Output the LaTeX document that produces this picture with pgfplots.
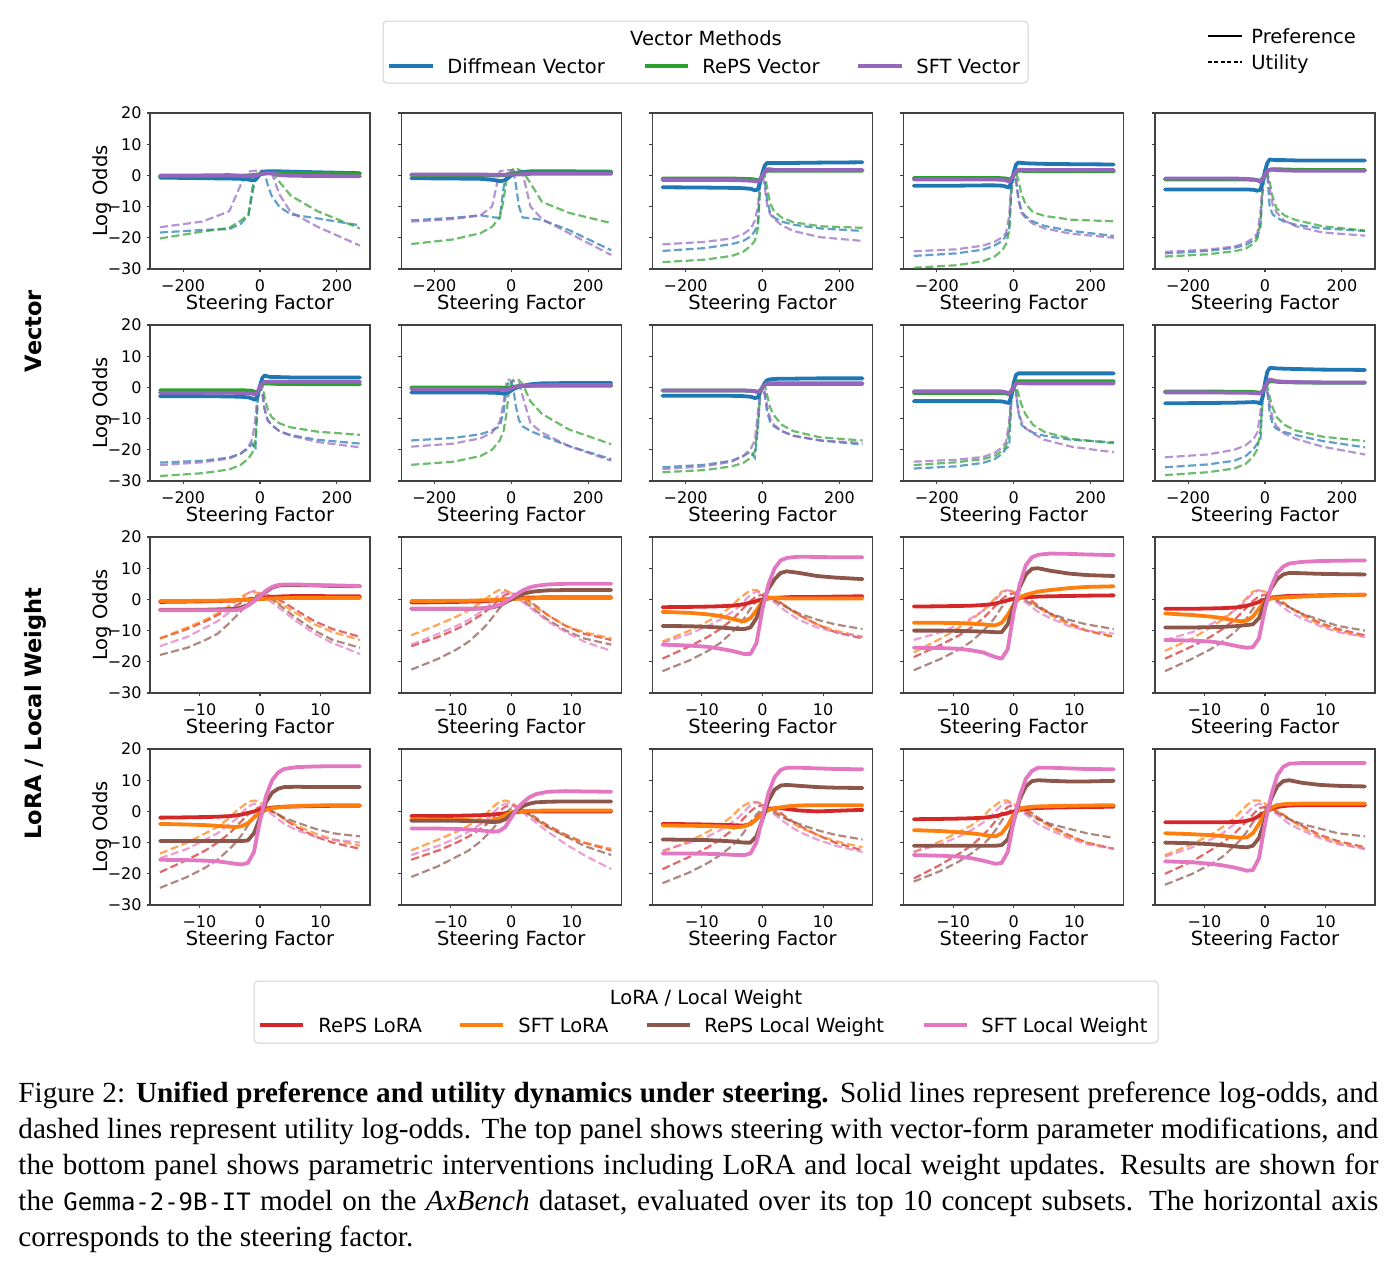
\documentclass[border=0pt]{standalone}
\usepackage{fontspec}
\setmainfont{DejaVu Sans}
\newfontfamily\capfont{Liberation Serif}
\newfontfamily\capmono{DejaVu Sans Mono}[Scale=0.82]
\usepackage{pgfplots}
\usepackage{pgfplotstable}
\pgfplotsset{compat=1.18}
\definecolor{tblue}{HTML}{1F77B4}
\definecolor{tgreen}{HTML}{2CA02C}
\definecolor{tpurple}{HTML}{9467BD}
\definecolor{tred}{HTML}{D62728}
\definecolor{torange}{HTML}{FF7F0E}
\definecolor{tbrown}{HTML}{8C564B}
\definecolor{tpink}{HTML}{E377C2}
\newcommand\lf{\fontsize{9.75}{11.5}\selectfont}
\pgfplotsset{
 panel/.style={scale only axis, width=110pt, height=78pt, anchor=south west,
  ymin=-30, ymax=20, ytick={-30,-20,-10,0,10,20},
  tick align=outside, xtick pos=bottom, ytick pos=left, major tick length=1.7pt,
  axis line style={line width=0.55pt, black!75},
  every tick/.style={line width=0.55pt, black!75},
  ticklabel style={font=\fontsize{8}{9.6}\selectfont, inner sep=0pt},
  xticklabel style={anchor=base, yshift=-9.75pt},
  yticklabel style={anchor=east, xshift=-2.3pt},
  yticklabels={,,,,,},
  xlabel={Steering Factor},
  xlabel style={at={(axis description cs:0.5,-0.2564)}, anchor=base, font=\lf, inner sep=0pt},
  ylabel style={at={(axis description cs:-0.1932,0.5)}, anchor=base, font=\lf, inner sep=0pt},
 },
 vec/.style={xmin=-286, xmax=286, xtick={-200,0,200}, xticklabels={−200,0,200}},
 lora/.style={xmin=-18.15, xmax=18.15, xtick={-10,0,10}, xticklabels={−10,0,10}},
 first/.style={ylabel={Log Odds}, yticklabels={−30,−20,−10,0,10,20}},
 pl/.style={no marks, line width=1.9pt, line join=round, line cap=round},
 ut/.style={no marks, line width=1.1pt, opacity=0.7, dash pattern=on 4pt off 1.8pt},
}
\newcommand\vpanel[4]{%
\begin{axis}[panel, vec, at={(#1*0.5pt,-#2*0.5pt)}, #4]
\addplot[ut, tblue] table[x=x,y=a]{#3};
\addplot[ut, tgreen] table[x=x,y=b]{#3};
\addplot[ut, tpurple] table[x=x,y=c]{#3};
\addplot[pl, tblue] table[x=x,y=A]{#3};
\addplot[pl, tgreen] table[x=x,y=B]{#3};
\addplot[pl, tpurple] table[x=x,y=C]{#3};
\end{axis}}
\newcommand\lpanel[4]{%
\begin{axis}[panel, lora, at={(#1*0.5pt,-#2*0.5pt)}, #4]
\addplot[ut, tred] table[x=x,y=r]{#3};
\addplot[ut, torange] table[x=x,y=o]{#3};
\addplot[ut, tbrown] table[x=x,y=w]{#3};
\addplot[ut, tpink] table[x=x,y=p]{#3};
\addplot[pl, tred] table[x=x,y=R]{#3};
\addplot[pl, torange] table[x=x,y=O]{#3};
\addplot[pl, tbrown] table[x=x,y=W]{#3};
\addplot[pl, tpink] table[x=x,y=P]{#3};
\end{axis}}

% ---------- vector panels: x, diffmean pref/util, reps pref/util, sft pref/util
\pgfplotstableread{
x A a B b C c
-260 -0.7 -18.3 -0.3 -20.2 0.0 -16.6
-150 -0.9 -17.5 -0.3 -18.0 0.0 -14.8
-80 -1.0 -17.2 -0.2 -16.8 0.1 -11.5
-50 -1.1 -15.5 -0.1 -14.5 -0.1 -3.0
-30 -1.3 -12.8 0.0 -12.5 -0.3 1.2
-20 -1.6 -6.0 0.1 -4.0 -0.2 1.4
-12 -1.4 -1.0 0.2 0.0 0.0 1.5
-6 -0.6 0.5 0.3 0.8 0.1 1.5
0 0.3 1.2 0.4 1.0 0.3 1.5
6 0.9 1.5 0.5 1.2 0.5 1.5
12 1.2 0.8 0.6 1.3 0.6 1.5
20 1.3 -3.0 0.7 1.3 0.7 1.4
30 1.3 -6.5 0.8 1.2 0.6 1.0
50 1.3 -10.0 0.8 -2.0 0.1 -6.0
80 1.2 -12.5 0.8 -6.5 -0.1 -11.8
150 1.0 -13.8 0.7 -11.5 -0.2 -16.5
260 0.7 -16.0 0.6 -17.0 -0.3 -22.5
}\tAA
\pgfplotstableread{
x A a B b C c
-260 -0.9 -14.4 0.1 -22.0 0.3 -14.8
-150 -1.0 -13.6 0.1 -20.5 0.3 -14.0
-80 -1.1 -12.8 0.0 -18.5 0.3 -12.8
-50 -1.4 -13.4 0.0 -16.5 0.2 -10.0
-30 -1.8 -13.6 0.0 -13.5 0.2 1.3
-20 -1.7 -4.0 0.1 -8.0 0.2 1.6
-12 -1.2 0.5 0.2 -1.0 0.2 1.7
-6 -0.6 1.0 0.3 0.5 0.3 1.7
0 0.0 1.2 0.5 1.5 0.3 1.6
6 0.4 1.0 0.6 2.2 0.3 1.6
12 0.7 -3.0 0.7 2.3 0.3 1.5
20 0.9 -10.0 0.8 1.8 0.3 1.4
30 1.1 -13.5 0.9 1.2 0.4 0.5
50 1.3 -13.7 1.0 -2.5 0.5 -10.0
80 1.3 -14.3 1.0 -8.5 0.5 -14.0
150 1.3 -17.5 1.0 -12.0 0.5 -18.5
260 1.2 -24.0 1.0 -15.3 0.5 -25.5
}\tAB
\pgfplotstableread{
x A a B b C c
-260 -3.8 -24.2 -1.0 -27.8 -1.5 -22.1
-150 -3.9 -23.3 -1.0 -27.0 -1.5 -21.3
-80 -4.0 -22.0 -1.0 -25.8 -1.5 -20.2
-50 -4.1 -21.0 -1.1 -24.5 -1.6 -18.8
-30 -4.3 -19.5 -1.2 -22.5 -1.7 -17.0
-20 -4.8 -17.8 -1.3 -21.0 -1.8 -14.5
-12 -4.5 -15.5 -1.6 -17.0 -2.0 -10.0
-6 -2.0 -2.0 -1.5 -3.0 -1.2 -2.0
0 1.0 0.3 0.0 0.3 0.0 0.6
6 3.2 -2.0 1.0 0.3 1.2 -4.0
12 4.0 -8.0 1.5 -4.0 2.0 -9.5
20 4.0 -12.0 1.5 -9.0 2.0 -12.5
30 4.0 -13.5 1.5 -11.5 1.7 -14.0
50 4.0 -14.8 1.5 -13.5 1.7 -16.0
80 4.0 -15.8 1.5 -15.0 1.7 -17.8
150 4.1 -17.0 1.5 -16.3 1.7 -19.8
260 4.2 -17.8 1.5 -16.8 1.7 -21.0
}\tAC
\pgfplotstableread{
x A a B b C c
-260 -3.3 -25.8 -0.8 -29.6 -1.3 -24.3
-150 -3.3 -25.0 -0.8 -28.8 -1.3 -23.7
-80 -3.2 -23.8 -0.8 -27.5 -1.3 -22.5
-50 -3.2 -22.5 -0.8 -26.0 -1.3 -21.3
-30 -3.3 -21.0 -0.9 -24.0 -1.4 -19.8
-20 -3.6 -19.3 -1.0 -22.0 -1.6 -18.5
-12 -3.9 -17.5 -1.3 -18.0 -2.0 -13.0
-6 -2.0 -4.0 -1.0 -5.0 -1.0 -2.0
0 1.0 0.0 0.0 0.3 0.3 0.8
6 3.5 -2.0 1.0 1.0 1.3 -1.0
12 4.1 -7.0 1.5 -1.5 1.8 -8.0
20 4.0 -11.5 1.5 -6.0 1.8 -12.0
30 3.9 -13.0 1.4 -9.0 1.7 -13.5
50 3.8 -14.8 1.4 -11.8 1.7 -15.5
80 3.7 -16.2 1.3 -13.0 1.7 -17.0
150 3.6 -17.8 1.3 -14.2 1.7 -18.7
260 3.5 -19.4 1.3 -14.7 1.7 -20.0
}\tAD
\pgfplotstableread{
x A a B b C c
-260 -4.5 -25.0 -1.3 -26.0 -1.0 -24.5
-150 -4.5 -24.2 -1.3 -25.3 -1.0 -23.8
-80 -4.5 -23.2 -1.3 -24.3 -1.0 -22.8
-50 -4.5 -22.3 -1.3 -23.5 -1.1 -21.6
-30 -4.6 -20.8 -1.4 -21.8 -1.3 -20.0
-20 -4.9 -19.5 -1.5 -20.3 -1.6 -18.5
-12 -4.6 -17.0 -1.8 -15.0 -2.1 -12.0
-6 -2.0 -3.0 -1.0 -5.0 -1.0 -2.0
0 1.5 0.2 0.0 0.3 0.3 1.0
6 4.0 0.5 1.2 1.0 1.3 0.0
12 5.1 -10.0 1.8 -2.0 1.8 -4.0
20 5.0 -12.5 2.0 -7.0 1.8 -9.5
30 4.9 -13.5 2.0 -10.5 1.7 -11.8
50 4.9 -14.8 1.9 -12.8 1.6 -14.5
80 4.8 -15.8 1.8 -14.3 1.5 -16.3
150 4.8 -17.0 1.7 -16.3 1.5 -18.3
260 4.8 -17.8 1.7 -17.7 1.5 -19.3
}\tAE
\pgfplotstableread{
x A a B b C c
-260 -2.8 -24.1 -0.9 -28.4 -1.7 -24.9
-150 -2.8 -23.5 -0.9 -27.5 -1.7 -24.0
-80 -2.9 -22.5 -0.9 -26.3 -1.7 -22.8
-50 -3.0 -21.2 -0.9 -24.8 -1.8 -21.2
-30 -3.2 -19.5 -1.0 -22.8 -1.9 -19.0
-20 -3.6 -18.0 -1.1 -21.0 -2.0 -16.5
-12 -4.0 -20.0 -1.5 -17.0 -2.3 -10.0
-6 -2.5 -4.0 -1.5 -4.0 -1.5 -1.5
0 0.5 0.0 0.0 0.3 0.3 0.3
6 3.0 -2.0 1.0 0.5 1.3 -1.0
12 3.8 -7.0 1.3 -3.0 1.8 -7.0
20 3.5 -10.5 1.3 -7.0 1.8 -10.5
30 3.3 -12.0 1.2 -9.5 1.8 -12.0
50 3.3 -14.0 1.1 -11.5 1.8 -14.0
80 3.2 -15.3 1.1 -12.8 1.8 -15.5
150 3.2 -16.8 1.0 -14.2 1.8 -17.5
260 3.2 -18.0 1.0 -15.2 1.8 -19.2
}\tBA
\pgfplotstableread{
x A a B b C c
-260 -1.6 -17.0 0.0 -24.8 -0.5 -19.0
-150 -1.6 -16.2 0.0 -23.8 -0.5 -18.0
-80 -1.6 -15.0 0.0 -22.0 -0.5 -16.3
-50 -1.7 -13.8 0.0 -20.0 -0.5 -14.5
-30 -1.8 -12.5 0.0 -17.0 -0.6 -11.0
-20 -2.0 -8.0 -0.1 -14.0 -0.8 -5.0
-12 -1.9 0.0 -0.2 -8.0 -0.8 2.3
-6 -1.5 2.0 -0.2 -1.0 -0.6 2.5
0 -1.0 2.0 0.0 1.5 -0.3 2.0
6 -0.5 -1.0 0.2 2.5 0.0 2.0
12 -0.2 -6.0 0.3 2.5 0.2 2.0
20 0.2 -10.5 0.4 2.3 0.4 1.5
30 0.5 -12.5 0.4 1.0 0.5 -3.0
50 1.0 -14.0 0.5 -4.5 0.6 -11.5
80 1.3 -15.5 0.5 -8.5 0.7 -14.5
150 1.4 -18.8 0.5 -13.5 0.8 -18.8
260 1.4 -23.0 0.5 -18.2 0.8 -23.5
}\tBB
\pgfplotstableread{
x A a B b C c
-260 -2.7 -25.6 -1.0 -27.2 -1.0 -26.2
-150 -2.7 -24.8 -1.0 -26.5 -1.0 -25.3
-80 -2.7 -23.5 -1.0 -25.3 -1.0 -23.8
-50 -2.8 -22.0 -1.0 -24.2 -1.0 -22.0
-30 -3.0 -20.5 -1.1 -22.5 -1.1 -19.5
-20 -3.4 -22.5 -1.2 -20.5 -1.2 -17.0
-12 -3.2 -13.0 -1.5 -12.0 -1.5 -8.0
-6 -1.5 -2.0 -1.0 -2.0 -1.0 -1.0
0 0.0 0.0 0.0 0.3 0.0 0.5
6 1.5 -2.5 0.8 0.5 0.8 -1.5
12 2.3 -8.0 1.2 -2.5 1.1 -6.0
20 2.6 -11.0 1.3 -6.5 1.1 -10.0
30 2.7 -12.5 1.3 -9.0 1.1 -12.0
50 2.8 -14.0 1.3 -12.0 1.1 -14.0
80 2.8 -15.5 1.3 -14.0 1.1 -15.5
150 2.9 -17.0 1.3 -16.0 1.1 -17.0
260 2.9 -18.3 1.3 -17.0 1.1 -17.8
}\tBC
\pgfplotstableread{
x A a B b C c
-260 -4.4 -26.0 -1.8 -24.9 -1.2 -23.8
-150 -4.4 -25.3 -1.8 -24.0 -1.2 -23.2
-80 -4.4 -24.2 -1.8 -23.0 -1.2 -22.3
-50 -4.4 -23.0 -1.8 -22.0 -1.2 -21.0
-30 -4.5 -21.3 -1.8 -20.3 -1.3 -19.2
-20 -4.8 -19.5 -1.9 -18.8 -1.6 -17.5
-12 -5.0 -19.0 -2.2 -14.0 -2.0 -11.0
-6 -2.5 -4.0 -1.5 -3.0 -1.0 -1.5
0 1.5 0.0 0.0 0.0 0.3 0.5
6 4.0 -1.5 1.5 0.5 1.2 -2.0
12 4.5 -8.0 2.0 -2.0 1.4 -7.5
20 4.5 -12.0 2.0 -5.5 1.4 -11.0
30 4.5 -13.0 2.0 -8.5 1.3 -13.0
50 4.5 -14.5 2.0 -12.0 1.3 -14.8
80 4.5 -15.5 2.0 -14.3 1.3 -16.8
150 4.5 -16.8 2.0 -16.5 1.3 -19.0
260 4.5 -17.6 2.0 -17.9 1.3 -20.8
}\tBD
\pgfplotstableread{
x A a B b C c
-260 -5.1 -25.6 -1.3 -28.1 -1.6 -22.4
-150 -5.0 -24.7 -1.3 -27.2 -1.6 -21.5
-80 -4.9 -23.5 -1.4 -26.0 -1.7 -20.0
-50 -4.8 -22.0 -1.4 -24.5 -1.7 -18.5
-30 -4.7 -19.8 -1.5 -22.0 -1.8 -16.5
-20 -4.8 -18.0 -1.6 -19.8 -1.9 -14.5
-12 -5.2 -17.0 -1.8 -14.0 -2.0 -8.0
-6 -3.0 -3.0 -1.2 -4.0 -1.2 -1.0
0 1.5 0.0 0.0 0.2 0.2 0.5
6 5.0 -1.0 1.3 0.2 1.5 -1.5
12 6.2 -8.0 2.0 -3.0 2.5 -5.5
20 6.2 -12.0 2.0 -6.5 2.3 -10.0
30 6.1 -13.3 1.8 -9.5 2.0 -12.5
50 6.0 -14.3 1.7 -12.0 1.8 -14.8
80 5.9 -15.3 1.6 -13.8 1.7 -16.5
150 5.7 -17.2 1.5 -15.8 1.6 -19.0
260 5.6 -19.2 1.5 -17.2 1.6 -21.5
}\tBE

% ---------- LoRA / local weight panels (one row per series, transposed below)
\pgfplotstableread{
name c1 c2 c3 c4 c5 c6 c7 c8 c9 c10 c11 c12 c13 c14 c15 c16 c17 c18
x -16.5 -12 -9 -7 -5 -4 -3 -2 -1 0 1 2 3 4 6 9 12 16.5
R -0.8 -0.7 -0.6 -0.5 -0.4 -0.3 -0.2 0.0 0.2 0.4 0.6 0.8 0.9 1.0 1.1 1.1 1.0 1.0
r -12.5 -9.5 -7.0 -5.0 -3.0 -2.0 -1.0 0.0 1.0 1.5 1.5 1.0 0.0 -1.0 -3.5 -7.0 -9.5 -12.0
O -0.5 -0.5 -0.4 -0.4 -0.3 -0.3 -0.2 -0.1 0.0 0.1 0.2 0.3 0.4 0.4 0.5 0.5 0.5 0.5
o -12.5 -9.0 -6.5 -4.5 -2.0 -0.5 1.0 2.0 2.3 2.0 1.0 0.0 -1.0 -2.0 -4.5 -8.0 -10.5 -13.0
W -3.3 -3.3 -3.3 -3.2 -3.1 -3.0 -2.5 -1.8 -0.5 1.0 2.5 3.8 4.4 4.6 4.6 4.5 4.3 4.2
w -17.8 -15.5 -13.0 -11.0 -7.5 -5.5 -3.5 -1.5 0.0 1.0 1.0 0.0 -1.5 -3.0 -6.0 -10.0 -13.0 -15.5
P -3.5 -3.5 -3.5 -3.5 -3.5 -3.5 -3.0 -2.0 -0.5 1.0 2.8 4.0 4.6 4.8 4.8 4.6 4.5 4.3
p -15.0 -12.0 -9.0 -7.0 -4.0 -2.0 0.0 2.0 2.8 2.0 0.5 -1.0 -2.5 -4.0 -7.0 -11.0 -14.0 -17.5
}\rCA
\pgfplotstableread{
name c1 c2 c3 c4 c5 c6 c7 c8 c9 c10 c11 c12 c13 c14 c15 c16 c17 c18
x -16.5 -12 -9 -7 -5 -4 -3 -2 -1 0 1 2 3 4 6 9 12 16.5
R -1.0 -0.9 -0.8 -0.7 -0.6 -0.5 -0.4 -0.2 0.0 0.2 0.4 0.5 0.6 0.6 0.7 0.7 0.7 0.7
r -15.0 -12.0 -9.5 -7.5 -5.0 -3.5 -2.0 0.0 1.5 2.0 1.5 0.5 -0.5 -2.0 -5.0 -8.5 -11.0 -13.0
O -0.5 -0.5 -0.4 -0.4 -0.3 -0.3 -0.2 -0.1 0.0 0.1 0.2 0.3 0.4 0.4 0.5 0.5 0.5 0.5
o -11.5 -8.0 -5.5 -3.5 -1.0 0.5 2.0 3.0 3.0 2.0 1.0 0.0 -1.0 -2.5 -5.0 -8.5 -10.5 -12.5
W -3.0 -3.0 -3.0 -3.0 -2.9 -2.8 -2.5 -2.0 -1.0 0.0 1.0 1.8 2.3 2.6 2.9 3.0 3.0 3.0
w -22.5 -19.0 -16.0 -13.5 -10.0 -8.0 -5.5 -3.0 -1.0 0.5 0.5 -0.5 -2.0 -3.5 -6.5 -10.0 -12.5 -14.5
P -3.0 -3.0 -3.0 -3.0 -2.9 -2.8 -2.4 -1.8 -0.8 0.5 1.8 3.0 3.8 4.3 4.8 5.0 5.0 5.0
p -14.5 -11.0 -8.5 -6.5 -4.0 -2.5 -0.5 1.5 2.5 2.0 0.5 -1.0 -2.5 -4.0 -7.0 -10.5 -13.5 -16.5
}\rCB
\pgfplotstableread{
name c1 c2 c3 c4 c5 c6 c7 c8 c9 c10 c11 c12 c13 c14 c15 c16 c17 c18
x -16.5 -12 -9 -7 -5 -4 -3 -2 -1 0 1 2 3 4 6 9 12 16.5
R -2.5 -2.4 -2.3 -2.2 -2.0 -1.8 -1.5 -1.0 -0.5 0.0 0.3 0.5 0.6 0.7 0.8 0.8 0.9 1.0
r -19.0 -15.0 -12.0 -9.5 -6.5 -4.5 -2.5 -0.5 1.0 1.5 1.0 0.0 -1.0 -2.5 -5.0 -8.0 -10.5 -12.5
O -4.0 -4.3 -4.8 -5.3 -6.2 -6.7 -7.0 -6.0 -3.5 -0.5 0.5 0.5 0.4 0.3 0.3 0.3 0.3 0.3
o -13.5 -10.0 -7.0 -5.0 -2.0 0.0 1.5 3.0 3.0 2.0 1.0 0.0 -1.0 -2.5 -5.0 -8.0 -10.0 -12.0
W -8.5 -8.6 -8.8 -9.0 -9.3 -9.5 -9.5 -9.0 -6.0 -1.0 3.5 6.5 8.5 9.0 8.5 7.5 7.0 6.5
w -23.0 -19.5 -16.5 -14.0 -10.5 -8.5 -6.0 -3.0 -0.5 1.0 0.5 -0.5 -1.5 -2.5 -4.5 -6.5 -8.0 -9.5
P -14.5 -14.8 -15.2 -15.8 -16.5 -17.0 -17.5 -17.5 -14.0 -3.0 5.0 10.0 12.5 13.3 13.7 13.6 13.5 13.5
p -14.0 -11.0 -8.5 -6.5 -4.0 -2.5 -0.5 1.5 2.5 2.0 0.5 -1.0 -2.5 -4.0 -6.5 -9.0 -10.5 -12.0
}\rCC
\pgfplotstableread{
name c1 c2 c3 c4 c5 c6 c7 c8 c9 c10 c11 c12 c13 c14 c15 c16 c17 c18
x -16.5 -12 -9 -7 -5 -4 -3 -2 -1 0 1 2 3 4 6 9 12 16.5
R -2.3 -2.2 -2.1 -2.0 -1.8 -1.6 -1.3 -0.8 -0.3 0.2 0.5 0.7 0.8 0.9 1.0 1.1 1.2 1.3
r -18.5 -14.5 -11.5 -9.0 -6.0 -4.0 -2.0 0.0 1.5 2.0 1.5 0.5 -0.5 -2.0 -4.5 -7.5 -10.0 -12.0
O -7.5 -7.5 -7.6 -7.8 -8.0 -8.2 -8.3 -7.5 -5.0 -1.5 0.5 1.5 2.0 2.5 3.0 3.6 4.0 4.2
o -17.0 -12.5 -9.0 -6.5 -3.5 -1.5 0.5 2.5 3.0 2.5 1.5 0.0 -1.0 -2.5 -5.0 -8.0 -10.0 -12.0
W -10.0 -10.0 -10.1 -10.2 -10.3 -10.4 -10.5 -10.5 -8.0 -2.0 4.0 8.0 9.8 10.0 9.2 8.3 7.8 7.5
w -22.7 -19.0 -16.0 -13.5 -10.0 -8.0 -5.5 -2.5 0.0 1.0 0.5 -0.5 -1.5 -2.5 -4.5 -6.5 -8.0 -9.5
P -15.5 -15.6 -15.8 -16.3 -17.0 -17.8 -18.5 -19.0 -16.0 -4.0 5.0 11.0 13.5 14.3 14.7 14.6 14.4 14.2
p -13.0 -10.5 -8.0 -6.0 -3.5 -2.0 0.0 2.0 3.0 2.0 0.5 -1.0 -2.5 -4.0 -6.0 -8.5 -10.0 -11.0
}\rCD
\pgfplotstableread{
name c1 c2 c3 c4 c5 c6 c7 c8 c9 c10 c11 c12 c13 c14 c15 c16 c17 c18
x -16.5 -12 -9 -7 -5 -4 -3 -2 -1 0 1 2 3 4 6 9 12 16.5
R -3.0 -3.0 -2.9 -2.8 -2.6 -2.4 -2.0 -1.5 -0.8 0.0 0.5 0.8 1.0 1.1 1.2 1.3 1.4 1.5
r -19.0 -15.0 -12.0 -9.5 -6.5 -4.5 -2.5 -0.5 1.0 1.5 1.0 0.0 -1.0 -2.5 -4.5 -7.5 -9.5 -11.5
O -4.5 -5.0 -5.5 -6.0 -6.8 -7.0 -6.8 -5.5 -3.0 -0.5 0.3 0.5 0.6 0.7 0.9 1.1 1.3 1.5
o -16.5 -12.5 -9.0 -6.5 -3.5 -1.5 0.5 2.5 3.0 2.5 1.5 0.0 -1.0 -2.5 -5.0 -8.0 -10.0 -12.0
W -9.0 -9.0 -8.9 -8.8 -8.6 -8.4 -8.2 -8.0 -6.0 -1.0 3.5 6.5 8.0 8.5 8.4 8.2 8.1 8.0
w -23.0 -19.0 -16.0 -13.5 -10.5 -8.5 -6.0 -3.0 -0.5 1.0 0.5 -0.5 -1.5 -2.5 -4.5 -6.5 -8.5 -10.0
P -13.0 -13.2 -13.5 -14.0 -14.8 -15.2 -15.5 -15.3 -12.5 -3.0 4.0 8.5 10.5 11.5 12.0 12.3 12.4 12.5
p -13.0 -10.5 -8.0 -6.0 -3.5 -2.0 0.0 2.0 3.0 2.0 0.5 -1.0 -2.5 -4.0 -6.0 -8.5 -10.5 -12.0
}\rCE
\pgfplotstableread{
name c1 c2 c3 c4 c5 c6 c7 c8 c9 c10 c11 c12 c13 c14 c15 c16 c17 c18
x -16.5 -12 -9 -7 -5 -4 -3 -2 -1 0 1 2 3 4 6 9 12 16.5
R -2.0 -1.9 -1.8 -1.7 -1.5 -1.3 -1.0 -0.5 0.0 0.5 0.9 1.2 1.4 1.5 1.6 1.7 1.8 1.8
r -19.5 -15.5 -12.5 -10.0 -7.0 -5.0 -3.0 -1.0 0.5 1.5 1.0 0.0 -1.0 -2.5 -5.0 -8.0 -10.0 -12.0
O -4.0 -4.2 -4.4 -4.6 -4.9 -5.0 -4.7 -3.8 -2.0 -0.5 0.5 1.0 1.3 1.5 1.7 1.9 2.0 2.0
o -13.5 -10.0 -7.0 -5.0 -2.0 0.0 1.5 3.0 3.5 3.0 1.5 0.0 -1.0 -2.5 -4.5 -7.0 -9.0 -11.0
W -9.5 -9.5 -9.5 -9.5 -9.5 -9.5 -9.5 -9.3 -7.0 -2.0 3.0 6.0 7.3 7.8 7.9 7.8 7.8 7.8
w -24.5 -21.0 -18.0 -15.5 -12.0 -10.0 -7.5 -4.5 -1.5 1.0 1.0 0.0 -1.0 -2.0 -3.5 -5.5 -7.0 -8.0
P -15.5 -15.6 -15.8 -16.0 -16.5 -16.8 -17.0 -16.5 -13.0 -3.0 5.0 10.0 12.5 13.6 14.2 14.4 14.5 14.5
p -15.0 -12.0 -9.0 -7.0 -4.0 -2.5 -0.5 1.5 2.5 2.0 0.5 -1.0 -2.5 -4.0 -6.0 -8.0 -9.0 -10.0
}\rDA
\pgfplotstableread{
name c1 c2 c3 c4 c5 c6 c7 c8 c9 c10 c11 c12 c13 c14 c15 c16 c17 c18
x -16.5 -12 -9 -7 -5 -4 -3 -2 -1 0 1 2 3 4 6 9 12 16.5
R -1.5 -1.5 -1.4 -1.3 -1.2 -1.1 -1.0 -0.8 -0.6 -0.4 -0.2 0.0 0.0 0.0 0.0 0.0 0.0 0.0
r -15.5 -12.5 -10.0 -8.0 -5.5 -4.0 -2.0 0.0 1.5 2.0 1.5 0.5 -0.5 -2.0 -4.5 -7.5 -10.0 -12.5
O -2.5 -2.6 -2.7 -2.8 -3.0 -3.0 -2.8 -2.2 -1.2 -0.3 0.0 0.1 0.2 0.2 0.3 0.3 0.3 0.3
o -12.5 -9.0 -6.5 -4.5 -2.0 -0.5 1.5 3.0 3.5 3.0 1.5 0.0 -1.0 -2.5 -5.0 -8.0 -10.0 -12.0
W -3.0 -3.0 -3.0 -3.1 -3.2 -3.3 -3.4 -3.3 -2.5 -1.0 0.5 1.8 2.5 2.9 3.1 3.2 3.2 3.2
w -21.0 -17.5 -14.5 -12.5 -9.5 -7.5 -5.5 -3.0 -0.5 1.0 1.0 0.0 -1.0 -2.5 -5.0 -8.0 -11.0 -14.0
P -5.5 -5.5 -5.6 -5.8 -6.1 -6.3 -6.5 -6.3 -5.0 -2.0 1.0 3.0 4.5 5.5 6.3 6.5 6.4 6.3
p -14.0 -11.0 -8.5 -6.5 -4.0 -2.5 -0.5 1.5 2.5 2.5 1.0 -0.5 -2.0 -3.5 -6.5 -10.5 -14.0 -18.5
}\rDB
\pgfplotstableread{
name c1 c2 c3 c4 c5 c6 c7 c8 c9 c10 c11 c12 c13 c14 c15 c16 c17 c18
x -16.5 -12 -9 -7 -5 -4 -3 -2 -1 0 1 2 3 4 6 9 12 16.5
R -4.0 -4.1 -4.2 -4.3 -4.4 -4.5 -4.5 -4.0 -2.5 -0.5 0.8 1.0 1.0 0.8 0.3 0.0 0.2 0.5
r -18.5 -14.5 -11.5 -9.0 -6.0 -4.0 -2.0 0.0 1.5 2.0 1.5 0.5 -0.5 -2.0 -4.5 -7.5 -10.0 -12.5
O -4.5 -4.6 -4.7 -4.8 -5.0 -5.0 -4.8 -4.0 -2.5 -0.8 0.5 1.0 1.3 1.6 1.9 2.0 2.0 2.0
o -13.0 -9.5 -6.5 -4.5 -1.5 0.5 2.0 3.0 3.0 2.5 1.0 0.0 -1.0 -2.5 -5.0 -7.5 -9.5 -11.5
W -9.0 -9.1 -9.2 -9.4 -9.6 -9.8 -10.0 -10.0 -8.0 -2.5 3.5 7.0 8.3 8.5 8.2 7.8 7.6 7.5
w -23.0 -19.5 -16.5 -14.0 -11.0 -9.0 -6.5 -3.5 -1.0 1.0 0.5 -0.5 -1.5 -2.5 -4.0 -6.0 -7.5 -9.0
P -13.5 -13.5 -13.6 -13.7 -13.9 -14.0 -14.0 -13.5 -10.0 -2.0 6.0 11.0 13.3 14.0 14.0 13.8 13.6 13.5
p -12.5 -10.0 -8.0 -6.0 -3.5 -2.0 0.0 2.0 3.0 2.0 0.5 -1.0 -2.5 -4.0 -6.5 -9.0 -11.0 -13.0
}\rDC
\pgfplotstableread{
name c1 c2 c3 c4 c5 c6 c7 c8 c9 c10 c11 c12 c13 c14 c15 c16 c17 c18
x -16.5 -12 -9 -7 -5 -4 -3 -2 -1 0 1 2 3 4 6 9 12 16.5
R -2.5 -2.4 -2.3 -2.2 -2.0 -1.8 -1.5 -1.0 -0.5 0.0 0.5 0.8 1.0 1.1 1.2 1.3 1.4 1.5
r -21.5 -17.0 -13.5 -11.0 -7.5 -5.5 -3.0 -0.5 1.5 2.0 1.5 0.5 -0.5 -2.0 -4.5 -7.5 -10.0 -12.0
O -6.0 -6.3 -6.7 -7.0 -7.5 -7.8 -8.0 -7.0 -4.5 -1.0 0.8 1.3 1.5 1.6 1.7 1.8 1.9 2.0
o -13.0 -9.5 -6.5 -4.5 -1.5 0.5 2.0 3.5 3.5 2.5 1.0 0.0 -1.0 -2.5 -5.0 -8.0 -10.0 -12.0
W -11.0 -11.0 -11.0 -11.0 -11.0 -11.0 -11.0 -10.8 -9.0 -3.0 4.0 8.0 9.7 10.0 9.8 9.6 9.6 9.8
w -22.5 -19.0 -16.0 -13.5 -10.5 -8.5 -6.0 -3.0 -0.5 1.0 0.5 -0.5 -1.5 -2.5 -4.0 -5.5 -7.0 -8.5
P -14.0 -14.2 -14.5 -15.0 -15.8 -16.3 -16.8 -16.5 -13.0 -3.0 5.0 10.5 13.0 14.0 14.0 13.8 13.6 13.5
p -13.0 -10.5 -8.0 -6.0 -3.5 -2.0 0.0 2.0 3.0 2.0 0.5 -1.0 -2.5 -4.0 -6.0 -8.5 -10.5 -12.0
}\rDD
\pgfplotstableread{
name c1 c2 c3 c4 c5 c6 c7 c8 c9 c10 c11 c12 c13 c14 c15 c16 c17 c18
x -16.5 -12 -9 -7 -5 -4 -3 -2 -1 0 1 2 3 4 6 9 12 16.5
R -3.5 -3.5 -3.5 -3.5 -3.4 -3.3 -3.0 -2.5 -1.5 -0.3 0.8 1.4 1.7 1.9 2.0 2.0 2.0 2.0
r -20.0 -16.0 -12.5 -10.0 -7.0 -5.0 -3.0 -1.0 1.0 1.5 1.0 0.0 -1.0 -2.5 -4.5 -7.5 -9.5 -11.5
O -7.0 -7.3 -7.6 -7.9 -8.3 -8.5 -8.3 -7.0 -4.0 -0.5 1.2 2.0 2.3 2.4 2.5 2.5 2.5 2.5
o -14.0 -10.5 -7.5 -5.0 -2.0 0.0 2.0 3.5 3.5 2.5 1.0 0.0 -1.0 -2.5 -5.0 -8.0 -10.0 -12.0
W -10.0 -10.2 -10.5 -10.8 -11.2 -11.4 -11.5 -11.0 -8.5 -2.5 4.0 8.0 9.7 10.0 9.2 8.5 8.2 8.0
w -23.5 -20.0 -17.0 -14.5 -11.0 -9.0 -6.5 -3.5 -1.0 1.0 0.5 -0.5 -1.5 -2.5 -4.0 -5.5 -7.0 -8.0
P -16.0 -16.3 -16.8 -17.3 -18.0 -18.5 -19.0 -18.8 -15.0 -4.0 5.0 11.5 14.3 15.3 15.5 15.5 15.5 15.5
p -14.5 -11.5 -9.0 -7.0 -4.0 -2.5 -0.5 1.5 2.5 2.0 0.5 -1.0 -2.5 -4.0 -6.0 -8.5 -10.5 -12.0
}\rDE
\pgfplotstabletranspose[colnames from=name]{\tCA}{\rCA}
\pgfplotstabletranspose[colnames from=name]{\tCB}{\rCB}
\pgfplotstabletranspose[colnames from=name]{\tCC}{\rCC}
\pgfplotstabletranspose[colnames from=name]{\tCD}{\rCD}
\pgfplotstabletranspose[colnames from=name]{\tCE}{\rCE}
\pgfplotstabletranspose[colnames from=name]{\tDA}{\rDA}
\pgfplotstabletranspose[colnames from=name]{\tDB}{\rDB}
\pgfplotstabletranspose[colnames from=name]{\tDC}{\rDC}
\pgfplotstabletranspose[colnames from=name]{\tDD}{\rDD}
\pgfplotstabletranspose[colnames from=name]{\tDE}{\rDE}

\begin{document}
\begin{tikzpicture}
\useasboundingbox (0,0) rectangle (698pt,-635pt);
% row 1
\vpanel{150}{269}{\tAA}{first}
\vpanel{401.25}{269}{\tAB}{}
\vpanel{652.5}{269}{\tAC}{}
\vpanel{903.75}{269}{\tAD}{}
\vpanel{1155}{269}{\tAE}{}
% row 2
\vpanel{150}{481}{\tBA}{first}
\vpanel{401.25}{481}{\tBB}{}
\vpanel{652.5}{481}{\tBC}{}
\vpanel{903.75}{481}{\tBD}{}
\vpanel{1155}{481}{\tBE}{}
% row 3
\lpanel{150}{693}{\tCA}{first}
\lpanel{401.25}{693}{\tCB}{}
\lpanel{652.5}{693}{\tCC}{}
\lpanel{903.75}{693}{\tCD}{}
\lpanel{1155}{693}{\tCE}{}
% row 4
\lpanel{150}{905}{\tDA}{first}
\lpanel{401.25}{905}{\tDB}{}
\lpanel{652.5}{905}{\tDC}{}
\lpanel{903.75}{905}{\tDD}{}
\lpanel{1155}{905}{\tDE}{}

\begin{scope}[x=0.5pt, y=-0.5pt]
% row labels
\node[rotate=90, anchor=base, inner sep=0pt, font=\fontsize{11.25}{13}\selectfont\bfseries] at (41,331) {Vector};
\node[rotate=90, anchor=base, inner sep=0pt, font=\fontsize{11.25}{13}\selectfont\bfseries] at (41,713.5) {LoRA / Local Weight};
% top legend
\draw[rounded corners=2pt, draw=black!18, line width=0.5pt, fill=white] (383,21) rectangle (1028,83);
\node[anchor=base, inner sep=0pt, font=\lf] at (706,45) {Vector Methods};
\draw[tblue, line width=2pt] (389,66) -- (433,66);
\node[anchor=base west, inner sep=0pt, font=\lf] at (447,73) {Diffmean Vector};
\draw[tgreen, line width=2pt] (645,66) -- (688,66);
\node[anchor=base west, inner sep=0pt, font=\lf] at (702,73) {RePS Vector};
\draw[tpurple, line width=2pt] (858,66) -- (902,66);
\node[anchor=base west, inner sep=0pt, font=\lf] at (916,73) {SFT Vector};
% style legend
\draw[black, line width=0.7pt] (1208,36) -- (1242,36);
\node[anchor=base west, inner sep=0pt, font=\lf] at (1251,43) {Preference};
\draw[black, line width=0.7pt, dash pattern=on 2pt off 1.2pt] (1208,62) -- (1242,62);
\node[anchor=base west, inner sep=0pt, font=\lf] at (1251,69) {Utility};
% bottom legend
\draw[rounded corners=2pt, draw=black!18, line width=0.5pt, fill=white] (254,981) rectangle (1158,1043);
\node[anchor=base, inner sep=0pt, font=\lf] at (706,1004) {LoRA / Local Weight};
\draw[tred, line width=2pt] (260,1025) -- (303,1025);
\node[anchor=base west, inner sep=0pt, font=\lf] at (318,1032) {RePS LoRA};
\draw[torange, line width=2pt] (460,1025) -- (503,1025);
\node[anchor=base west, inner sep=0pt, font=\lf] at (518,1032) {SFT LoRA};
\draw[tbrown, line width=2pt] (647,1025) -- (690,1025);
\node[anchor=base west, inner sep=0pt, font=\lf] at (704,1032) {RePS Local Weight};
\draw[tpink, line width=2pt] (924,1025) -- (967,1025);
\node[anchor=base west, inner sep=0pt, font=\lf] at (981,1032) {SFT Local Weight};
% caption
\begin{scope}[every node/.style={anchor=base west, inner sep=0pt, font=\capfont\fontsize{14.6}{17}\selectfont}]
\node at (18,1102) {\makebox[680pt][s]{Figure 2: \textbf{Unified preference and utility dynamics under steering.} Solid lines represent preference log-odds, and}};
\node at (18,1138) {\makebox[680pt][s]{dashed lines represent utility log-odds. The top panel shows steering with vector-form parameter modifications, and}};
\node at (18,1174) {\makebox[680pt][s]{the bottom panel shows parametric interventions including LoRA and local weight updates. Results are shown for}};
\node at (18,1210) {\makebox[680pt][s]{the {\capmono Gemma-2-9B-IT} model on the \textit{AxBench} dataset, evaluated over its top 10 concept subsets. The horizontal axis}};
\node at (18,1246) {corresponds to the steering factor.};
\end{scope}
\end{scope}
\end{tikzpicture}
\end{document}
